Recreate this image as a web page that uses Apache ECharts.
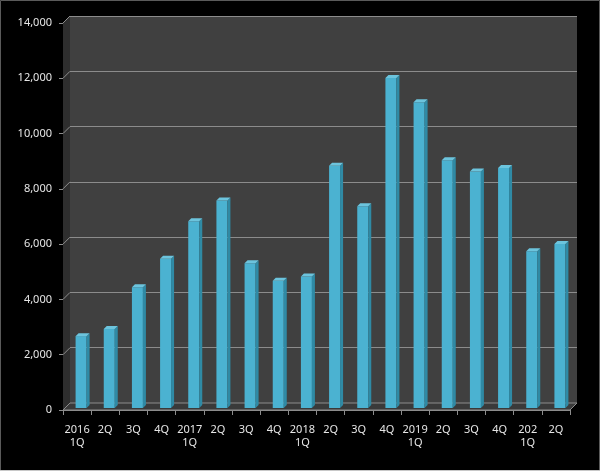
<!DOCTYPE html>
<html>
<head>
	<meta charset="utf-8">
	<title>Quarterly chart</title>
	<script src="https://cdn.jsdelivr.net/npm/echarts@6/dist/echarts.min.js"></script>
	<style>
		html, body { margin: 0; padding: 0; background: #000; }
		#chart { width: 600px; height: 471px; }
	</style>
</head>
<body>
<div id="chart"></div>
<script>
	// 数据
	var categories = ['2016\n1Q', '2Q', '3Q', '4Q', '2017\n1Q', '2Q', '3Q', '4Q', '2018\n1Q', '2Q',
		'3Q', '4Q', '2019\n1Q', '2Q', '3Q', '4Q', '202\n1Q', '2Q'];
	var values = [2600, 2860, 4370, 5400, 6760, 7510, 5240, 4600, 4760, 8760,
		7300, 11940, 11060, 8960, 8560, 8680, 5670, 5930];
	var yTicks = [0, 2000, 4000, 6000, 8000, 10000, 12000, 14000];

	var depth = 7;       // wall depth
	var lineColor = '#8c8c8c';
	var textColor = '#e6e6e6';
	var font = 'Noto Sans';

	function addCommas(v) {
		return String(v).replace(/\B(?=(\d{3})+(?!\d))/g, ',');
	}

	// 3D bar
	function renderBar(params, api) {
		var idx = api.value(0), val = api.value(1);
		var top = api.coord([idx, val]);
		var base = api.coord([idx, 0]);
		var cx = top[0] + 4, yt = top[1] - 2, yb = base[1] - 2;
		var hw = 5.5, d = 3;
		return {
			type: 'group',
			children: [
				{type: 'rect', shape: {x: cx - hw, y: yt, width: hw * 2, height: yb - yt}, style: {fill: '#4bb2d1'}},
				{type: 'polygon', shape: {points: [[cx + hw, yt], [cx + hw + d, yt - d], [cx + hw + d, yb - d], [cx + hw, yb]]}, style: {fill: '#2f8aa5'}},
				{type: 'polygon', shape: {points: [[cx - hw, yt], [cx - hw + d, yt - d], [cx + hw + d, yt - d], [cx + hw, yt]]}, style: {fill: '#6cc4dd'}}
			]
		};
	}

	// left wall + floor, drawn on the back grid
	function renderWalls(params, api) {
		var b0 = api.coord([0, 0]);
		var bTop = api.coord([0, yTicks[yTicks.length - 1]]);
		var bRight = api.coord([1, 0]);
		return {
			type: 'group',
			children: [
				{type: 'polygon', shape: {points: [[b0[0] - depth, bTop[1] + depth], bTop, b0, [b0[0] - depth, b0[1] + depth]]},
					style: {fill: '#2e2e2e'}},
				{type: 'polygon', shape: {points: [[b0[0] - depth, b0[1] + depth], b0, bRight, [bRight[0] - depth, bRight[1] + depth]]},
					style: {fill: '#3a3a3a', stroke: lineColor, lineWidth: 1}}
			]
		};
	}

	// diagonal grid lines on the left wall
	function renderDiag(params, api) {
		var p = api.coord([0, api.value(0)]);
		return {
			type: 'line',
			shape: {x1: p[0] - depth, y1: p[1] + depth, x2: p[0], y2: p[1]},
			style: {stroke: lineColor, lineWidth: 1}
		};
	}

	var myChart = echarts.init(document.getElementById('chart'));

	var option = {
		backgroundColor: '#000',
		animation: false,
		textStyle: {fontFamily: font},
		graphic: [
			{type: 'rect', shape: {x: 0.5, y: 0.5, width: 599, height: 470}, style: {fill: null, stroke: '#5a5a5a', lineWidth: 1}, z: 100},
			{type: 'line', shape: {x1: 0, y1: 470.5, x2: 600, y2: 470.5}, style: {stroke: '#c8c8c8', lineWidth: 1}, z: 100}
		],
		grid: [
			{left: 63, top: 23, width: 507, height: 387},
			{left: 70, top: 16, width: 507, height: 387, show: true, backgroundColor: '#404040', borderWidth: 0}
		],
		xAxis: [
			{
				type: 'category',
				gridIndex: 0,
				data: categories,
				axisLine: {lineStyle: {color: lineColor}},
				axisTick: {show: true, interval: 0, length: 5, lineStyle: {color: lineColor}},
				axisLabel: {interval: 0, color: textColor, fontSize: 11, fontFamily: font, margin: 13, lineHeight: 13}
			},
			{type: 'value', gridIndex: 1, min: 0, max: 1, show: false}
		],
		yAxis: [
			{
				type: 'value',
				gridIndex: 0,
				min: 0,
				max: 14000,
				interval: 2000,
				axisLine: {show: true, lineStyle: {color: lineColor}},
				axisTick: {show: true, length: 4, lineStyle: {color: lineColor}},
				splitLine: {show: false},
				axisLabel: {color: textColor, fontSize: 11, fontFamily: font, margin: 11, padding: [4, 0, 0, 0], formatter: addCommas}
			},
			{
				type: 'value',
				gridIndex: 1,
				min: 0,
				max: 14000,
				interval: 2000,
				axisLine: {show: false},
				axisTick: {show: false},
				axisLabel: {show: false},
				splitLine: {show: true, lineStyle: {color: lineColor, width: 1}}
			}
		],
		series: [
			{
				type: 'custom',
				xAxisIndex: 1,
				yAxisIndex: 1,
				renderItem: renderWalls,
				data: [[0, 0]],
				silent: true,
				z: 1
			},
			{
				type: 'custom',
				xAxisIndex: 1,
				yAxisIndex: 1,
				renderItem: renderDiag,
				data: yTicks.map(function (v) { return [v]; }),
				encode: {y: 0},
				silent: true,
				z: 1
			},
			{
				type: 'custom',
				xAxisIndex: 0,
				yAxisIndex: 0,
				renderItem: renderBar,
				data: values.map(function (v, i) { return [i, v]; }),
				encode: {x: 0, y: 1},
				z: 3
			}
		]
	};

	myChart.setOption(option);
</script>
</body>
</html>
